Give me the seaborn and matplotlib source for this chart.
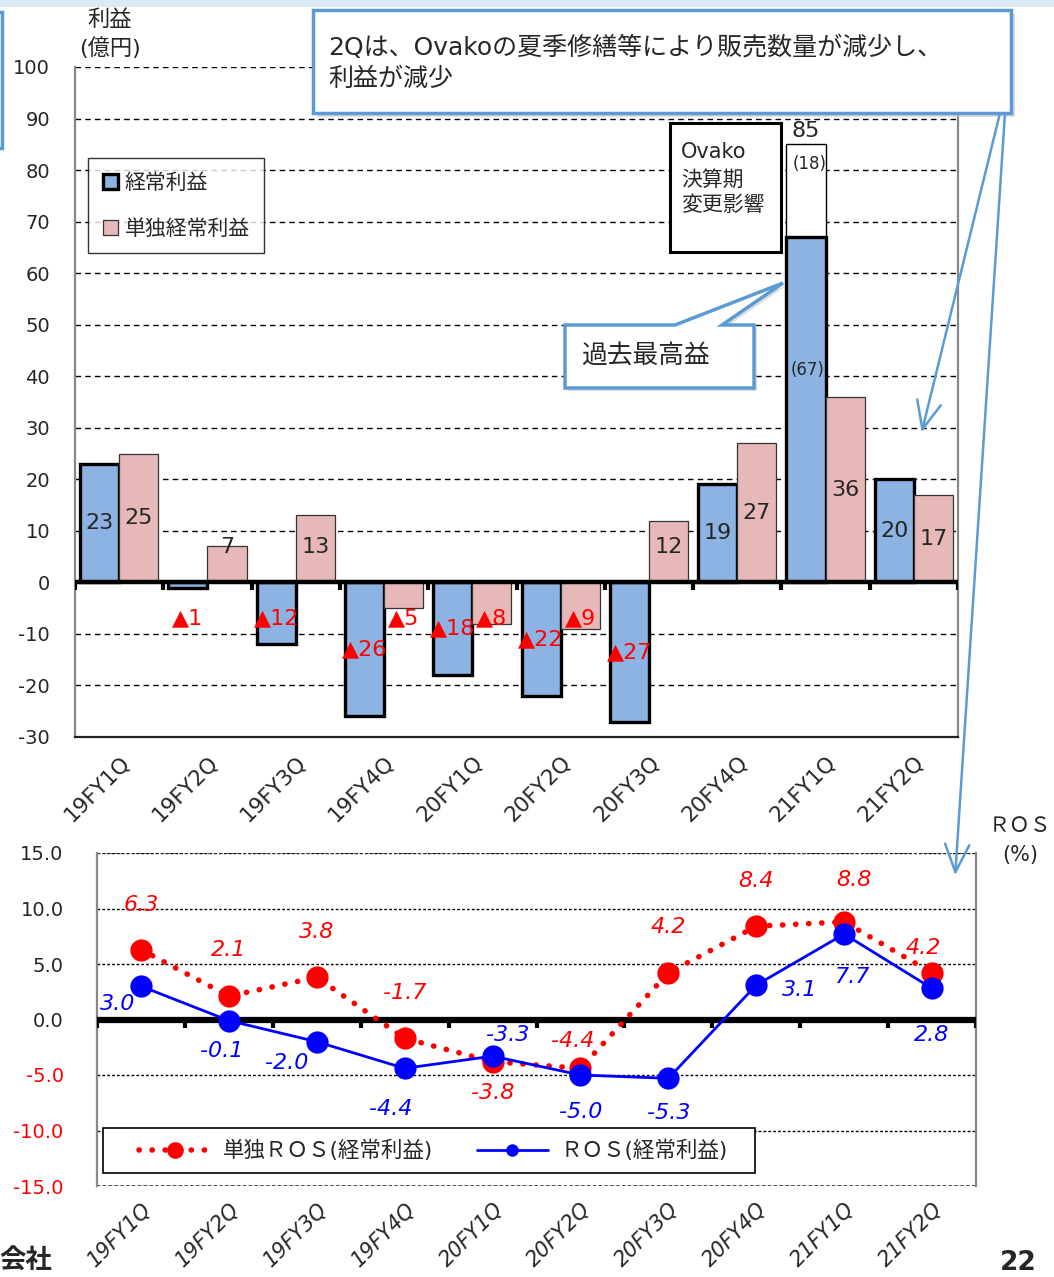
import numpy as np
import pandas as pd
import matplotlib
matplotlib.use("Agg")
import matplotlib.pyplot as plt
import seaborn as sns
from matplotlib.patches import Rectangle, Polygon, Patch, FancyArrowPatch
from matplotlib.lines import Line2D
from matplotlib.transforms import Affine2D

# ---------------- data ----------------
quarters = ["19FY1Q", "19FY2Q", "19FY3Q", "19FY4Q", "20FY1Q",
            "20FY2Q", "20FY3Q", "20FY4Q", "21FY1Q", "21FY2Q"]
ordinary_profit = [23, -1, -12, -26, -18, -22, -27, 19, 67, 20]        # 経常利益
standalone_profit = [25, 7, 13, -5, -8, -9, 12, 27, 36, 17]            # 単独経常利益
ovako_quarter = "21FY1Q"
ovako_effect = 18
ovako_total = 85
ros_standalone = [6.3, 2.1, 3.8, -1.7, -3.8, -4.4, 4.2, 8.4, 8.8, 4.2]  # 単独ROS
ros_ordinary = [3.0, -0.1, -2.0, -4.4, -3.3, -5.0, -5.3, 3.1, 7.7, 2.8]  # ROS
profit_ticks = list(range(-30, 101, 10))
ros_ticks = [-15, -10, -5, 0, 5, 10, 15]

series_names = ["経常利益", "単独経常利益"]
ros_names = ["単独ＲＯＳ(経常利益)", "ＲＯＳ(経常利益)"]

# label offsets for ROS chart (layout only): (dx in categories, dy in %)
red_label_off = [(0, 4.0), (0, 4.2), (0, 4.1), (0, 4.1), (0, -2.8),
                 (-0.09, 2.5), (0, 4.1), (0, 4.1), (0.11, 3.8), (-0.1, 2.2)]
blue_label_off = [(-0.26, -1.6), (-0.08, -2.7), (-0.34, -1.9), (-0.16, -3.7), (0.17, 1.9),
                  (0, -3.3), (0, -3.1), (0.49, -0.4), (0.1, -3.9), (0, -4.2)]

# ---------------- style ----------------
W, H = 1054, 1277
sns.set_theme(style="white")
plt.rcParams["font.family"] = ["DejaVu Sans", "Noto Sans CJK JP"]
plt.rcParams["axes.unicode_minus"] = False

BLUE = "#8DB3E2"
PINK = "#E6B9B8"
CALLOUT = "#5B9BD5"
RED_DOTS = (0, (0.05, 2.3))

fig = plt.figure(figsize=(W / 100, H / 100), dpi=100)
fig.patch.set_facecolor("white")
pix = Affine2D().scale(1, -1).translate(0, H)


def fx(px):
    return px / W


def fy(py):
    return 1 - py / H


# ---------------- top bar chart ----------------
ax = fig.add_axes([fx(75), fy(737), (958 - 75) / W, (737 - 67) / H])
bars_df = pd.DataFrame({
    "quarter": quarters * 2,
    "value": ordinary_profit + standalone_profit,
    "series": [series_names[0]] * len(quarters) + [series_names[1]] * len(quarters),
})
sns.barplot(data=bars_df, x="quarter", y="value", hue="series", hue_order=series_names,
            palette={series_names[0]: BLUE, series_names[1]: PINK}, width=0.886, gap=0,
            saturation=1, legend=False, ax=ax, zorder=2)

blue_bars, pink_bars = ax.containers[0], ax.containers[1]
for p in blue_bars:
    p.set_edgecolor("black")
    p.set_linewidth(2.4)
for p in pink_bars:
    p.set_edgecolor("#333333")
    p.set_linewidth(0.9)

# Ovako stacked (white) part
oi = quarters.index(ovako_quarter)
pb = blue_bars[oi]
ax.bar(pb.get_x() + pb.get_width() / 2, ovako_effect, bottom=ordinary_profit[oi],
       width=pb.get_width(), color="white", edgecolor="black", linewidth=1.0, zorder=1.5)

ax.set_xlim(-0.5, len(quarters) - 0.5)
ax.set_ylim(-30, 100)
ax.set_yticks(profit_ticks)
ax.set_yticklabels([str(t) for t in profit_ticks], fontsize=14)
ax.set_xlabel("")
ax.set_ylabel("")
ax.set_xticks(range(len(quarters)))
ax.set_xticklabels(quarters, rotation=45, ha="right", rotation_mode="anchor", fontsize=15.5)
ax.tick_params(axis="x", length=0, pad=11)
ax.tick_params(axis="y", length=4, color="#888888", pad=18, direction="in")
ax.yaxis.grid(True, linestyle=(0, (4, 3)), color="black", linewidth=1.0)
ax.xaxis.grid(False)
ax.set_axisbelow(True)
for s in ["left", "right"]:
    ax.spines[s].set_color("#888888")
    ax.spines[s].set_linewidth(1.6)
ax.spines["top"].set_visible(False)
ax.spines["bottom"].set_color("#222222")
ax.spines["bottom"].set_linewidth(1.6)
ax.axhline(0, color="black", linewidth=3.2, zorder=3)
ax.vlines(np.arange(-0.5, len(quarters)), -1.4, 0, color="black", linewidth=3, zorder=3)

# value labels
for i, (pb_, v) in enumerate(zip(blue_bars, ordinary_profit)):
    xc = pb_.get_x() + pb_.get_width() / 2
    if i == oi:
        ax.text(xc + 0.02, 41.2, f"({v})", ha="center", va="center", fontsize=12, zorder=4)
    elif v >= 0:
        ax.text(xc, max(v / 2, 6.8), str(v), ha="center", va="center", fontsize=16, zorder=4)
    else:
        ax.text(xc, min(v / 2, -7), "▲" + str(abs(v)), ha="center", va="center",
                fontsize=16, color="red", zorder=4)
for pp, v in zip(pink_bars, standalone_profit):
    xc = pp.get_x() + pp.get_width() / 2
    if v >= 0:
        ax.text(xc, max(v / 2, 6.8), str(v), ha="center", va="center", fontsize=16, zorder=4)
    else:
        ax.text(xc, -7, "▲" + str(abs(v)), ha="center", va="center",
                fontsize=16, color="red", zorder=4)
xo = pb.get_x() + pb.get_width() / 2
ax.text(xo, ovako_total + 0.6, str(ovako_total), ha="center", va="bottom", fontsize=16, zorder=4)
ax.text(xo + 0.04, ovako_total - 3.8, f"({ovako_effect})", ha="center", va="center",
        fontsize=12, zorder=4)

leg1 = ax.legend(handles=[Patch(facecolor=BLUE, edgecolor="black", linewidth=2.4),
                          Patch(facecolor=PINK, edgecolor="#333333", linewidth=0.9)],
                 labels=series_names, loc="upper left",
                 bbox_to_anchor=(fx(88), fy(158)), bbox_transform=fig.transFigure,
                 fontsize=15, frameon=True, fancybox=False, edgecolor="black",
                 handlelength=0.75, handleheight=0.75, handletextpad=0.3,
                 labelspacing=1.25, borderpad=0.7, borderaxespad=0)
leg1.get_frame().set_linewidth(1.0)
leg1.set_zorder(6)

# ---------------- bottom ROS chart ----------------
ax2 = fig.add_axes([fx(97), fy(1186), (976 - 97) / W, (1186 - 853) / H])
ros_df = pd.DataFrame({"quarter": quarters, "standalone": ros_standalone,
                       "ordinary": ros_ordinary})
sns.lineplot(data=ros_df, x="quarter", y="standalone", sort=False, ax=ax2, color="red",
             linestyle=RED_DOTS, linewidth=4.0, dash_capstyle="round",
             marker="o", markersize=16, markeredgewidth=0, zorder=4)
sns.lineplot(data=ros_df, x="quarter", y="ordinary", sort=False, ax=ax2, color="blue",
             linewidth=2.0, marker="o", markersize=16, markeredgewidth=0, zorder=5)

ax2.set_xlim(-0.5, len(quarters) - 0.5)
ax2.set_ylim(-15, 15)
ax2.set_yticks(ros_ticks)
ax2.set_yticklabels([f"{t:.1f}" for t in ros_ticks], fontsize=14)
for lab, t in zip(ax2.get_yticklabels(), ros_ticks):
    if t < 0:
        lab.set_color("red")
ax2.set_xticks(range(len(quarters)))
ax2.set_xticklabels(quarters, rotation=45, ha="right", rotation_mode="anchor",
                    fontsize=15, style="italic")
ax2.tick_params(axis="x", length=0, pad=9)
ax2.tick_params(axis="y", length=0, pad=24)
ax2.set_xlabel("")
ax2.set_ylabel("")
ax2.yaxis.grid(True, linestyle=(0, (2, 1.5)), color="black", linewidth=1.0)
ax2.xaxis.grid(False)
ax2.set_axisbelow(True)
for s in ["left", "right"]:
    ax2.spines[s].set_color("#888888")
    ax2.spines[s].set_linewidth(1.6)
for s in ["top", "bottom"]:
    ax2.spines[s].set_visible(False)
ax2.axhline(15, color="#333333", linewidth=1.2, linestyle=(0, (2, 1.5)), zorder=1)
ax2.axhline(-15, color="#333333", linewidth=1.2, linestyle=(0, (2, 1.5)), zorder=1)
ax2.axhline(0, color="black", linewidth=4.5, zorder=3)
ax2.vlines(np.arange(-0.5, len(quarters)), -0.8, 0, color="black", linewidth=3, zorder=3)

for i, v in enumerate(ros_standalone):
    dx, dy = red_label_off[i]
    ax2.text(i + dx, v + dy, f"{v:.1f}", color="red", style="italic", fontsize=16,
             ha="center", va="center", zorder=6)
for i, v in enumerate(ros_ordinary):
    dx, dy = blue_label_off[i]
    ax2.text(i + dx, v + dy, f"{v:.1f}", color="blue", style="italic", fontsize=16,
             ha="center", va="center", zorder=6)

# legend frame drawn separately to match the reference box
fig.add_artist(Rectangle((103, 1128), 652, 45, transform=pix, facecolor="white",
                         edgecolor="black", linewidth=1.2, zorder=6))
leg2 = fig.legend(handles=[Line2D([], [], color="red", linestyle=RED_DOTS, linewidth=4.0,
                                  dash_capstyle="round", marker="o", markersize=12,
                                  markeredgewidth=0),
                           Line2D([], [], color="blue", linewidth=2.0, marker="o",
                                  markersize=9, markeredgewidth=0)],
                  labels=ros_names, loc="center left", ncol=2,
                  bbox_to_anchor=(fx(135), fy(1150.5)), bbox_transform=fig.transFigure,
                  fontsize=15.5, frameon=False,
                  handlelength=3.3, handletextpad=0.6, columnspacing=2.0,
                  borderpad=0.2, borderaxespad=0)
leg2.set_zorder(7)

# ---------------- figure-level texts and annotations ----------------
fig.text(fx(110), fy(20), "利益", ha="center", va="center", fontsize=16, zorder=7)
fig.text(fx(110), fy(48), "(億円)", ha="center", va="center", fontsize=16, zorder=7)
fig.text(fx(1020), fy(826), "ＲＯＳ", ha="center", va="center", fontsize=15, zorder=7)
fig.text(fx(1020), fy(855), "(%)", ha="center", va="center", fontsize=15, zorder=7)

# top light band and left fragment box
fig.add_artist(Rectangle((0, 0), W, 7, transform=pix, facecolor="#DCEAF7",
                         edgecolor="none", zorder=1))
fig.add_artist(Rectangle((-100, 12), 102, 136, transform=pix, facecolor="white",
                         edgecolor=CALLOUT, linewidth=2.5, zorder=5))

# main comment box
fig.add_artist(Rectangle((317, 14), 698, 103, transform=pix, facecolor="#C8C8C8",
                         edgecolor="none", alpha=0.6, zorder=5))
fig.add_artist(Rectangle((313, 10), 698, 103, transform=pix, facecolor="white",
                         edgecolor=CALLOUT, linewidth=2.5, zorder=5))
fig.text(fx(328), fy(48), "2Qは、Ovakoの夏季修繕等により販売数量が減少し、",
         ha="left", va="center", fontsize=18, zorder=8)
fig.text(fx(328), fy(79), "利益が減少", ha="left", va="center", fontsize=18, zorder=8)

# arrows from the comment box
fig.add_artist(FancyArrowPatch((1000, 113), (921, 435), transform=pix,
                               arrowstyle="->,head_length=0.8,head_width=0.35",
                               mutation_scale=25, color=CALLOUT, linewidth=1.8, zorder=6))
fig.add_artist(FancyArrowPatch((1005, 113), (955, 878), transform=pix,
                               arrowstyle="->,head_length=0.8,head_width=0.35",
                               mutation_scale=25, color=CALLOUT, linewidth=1.8, zorder=6))

# Ovako box
fig.add_artist(Rectangle((670, 123), 111, 129, transform=pix, facecolor="white",
                         edgecolor="black", linewidth=2.2, zorder=5))
fig.text(fx(681), fy(152), "Ovako", ha="left", va="center", fontsize=15, zorder=8)
fig.text(fx(681), fy(180), "決算期", ha="left", va="center", fontsize=15, zorder=8)
fig.text(fx(681), fy(205), "変更影響", ha="left", va="center", fontsize=15, zorder=8)

# callout 過去最高益
call_pts = [(565, 325), (675, 325), (783, 283), (722, 325), (754, 325), (754, 388), (565, 388)]
fig.add_artist(Polygon([(x + 3, y + 3) for x, y in call_pts], closed=True, transform=pix,
                       facecolor="#C8C8C8", edgecolor="none", alpha=0.6, zorder=5))
fig.add_artist(Polygon(call_pts, closed=True, transform=pix, facecolor="white",
                       edgecolor=CALLOUT, linewidth=2.5, zorder=5))
fig.text(fx(581), fy(357), "過去最高益", ha="left", va="center", fontsize=18.5, zorder=8)

# footer
fig.text(fx(52), fy(1262), "会社", ha="right", va="center", fontsize=19,
         fontweight="bold", zorder=8)
fig.text(fx(1018), fy(1263), "22", ha="center", va="center", fontsize=19,
         fontweight="bold", zorder=8)

fig.savefig("out.png", dpi=100, facecolor="white")
